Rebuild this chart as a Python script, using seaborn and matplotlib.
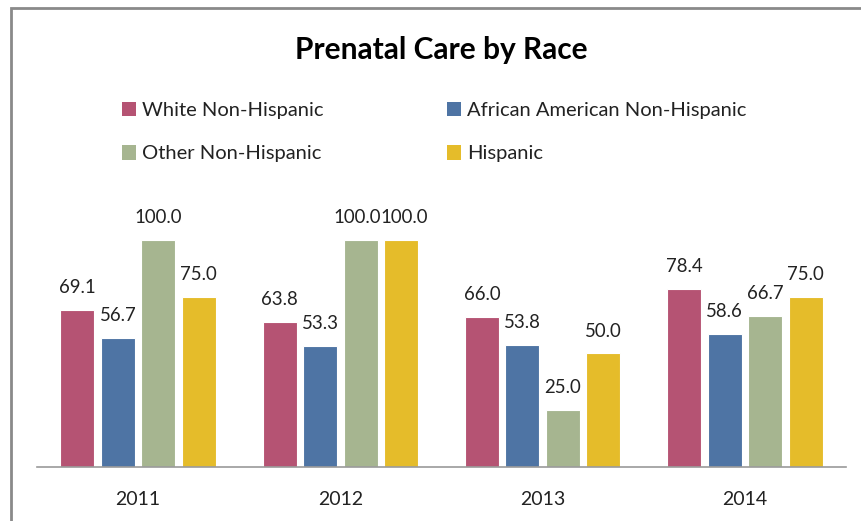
import matplotlib
matplotlib.use("Agg")
import matplotlib.pyplot as plt
import seaborn as sns
import pandas as pd
from matplotlib.patches import Rectangle, Patch

years = ["2011", "2012", "2013", "2014"]
groups = ["White Non-Hispanic", "African American Non-Hispanic", "Other Non-Hispanic", "Hispanic"]
white = [69.1, 63.8, 66.0, 78.4]
african = [56.7, 53.3, 53.8, 58.6]
other = [100.0, 100.0, 25.0, 66.7]
hispanic = [75.0, 100.0, 50.0, 75.0]
colors = ["#B55373", "#4E74A4", "#A6B590", "#E5BC2A"]

rows = []
for g, vals in zip(groups, [white, african, other, hispanic]):
    for y, v in zip(years, vals):
        rows.append({"Year": y, "Group": g, "Value": v})
df = pd.DataFrame(rows)

sns.set_theme(style="white")
plt.rcParams["font.family"] = ["Lato", "DejaVu Sans"]

W, H = 862, 521
fig = plt.figure(figsize=(W / 100, H / 100), dpi=100)
ax = fig.add_axes([37 / W, (H - 467) / H, 809 / W, 268 / H])

sns.barplot(data=df, x="Year", y="Value", hue="Group", order=years, hue_order=groups,
            palette=colors, width=0.8, gap=0.16, ax=ax, legend=False,
            edgecolor="white", linewidth=0.8, saturation=1)

all_labels = []
for cont in ax.containers:
    all_labels.append(ax.bar_label(cont, fmt="%.1f", padding=10, fontsize=13.4, color="#222222"))

# 2012: the two 100.0 labels sit side by side; keep them just apart
all_labels[2][1].xyann = (-2.5, 10)
all_labels[3][1].xyann = (2.5, 10)

ax.set_ylim(0, 118)
ax.set_xlim(-0.5, 3.5)
ax.set_xlabel("")
ax.set_ylabel("")
ax.set_yticks([])
for s in ["left", "right", "top"]:
    ax.spines[s].set_visible(False)
ax.spines["bottom"].set_color("#9a9a9a")
ax.spines["bottom"].set_linewidth(1.2)
ax.tick_params(axis="x", length=0, labelsize=14, colors="#222222", pad=17)

fig.text(441 / W, 1 - 50 / H, "Prenatal Care by Race", ha="center", va="center",
         fontsize=21.5, fontweight="bold", color="black")

order = [0, 2, 1, 3]
handles = [Patch(facecolor=colors[i], edgecolor="none") for i in order]
labels = [groups[i] for i in order]
fig.legend(handles, labels, ncol=2, loc="upper left",
           bbox_to_anchor=(104 / W, 1 - 84 / H), frameon=False, fontsize=14.5,
           handlelength=0.7, handleheight=0.7, handletextpad=0.3,
           columnspacing=6.1, labelspacing=1.3, labelcolor="#222222")

fig.patches.append(Rectangle((11 / W, -0.2), 2.0, 1.2 - 8 / H, transform=fig.transFigure,
                             fill=False, edgecolor="#8a8a8a", linewidth=2))

fig.savefig("out.png", dpi=100)
